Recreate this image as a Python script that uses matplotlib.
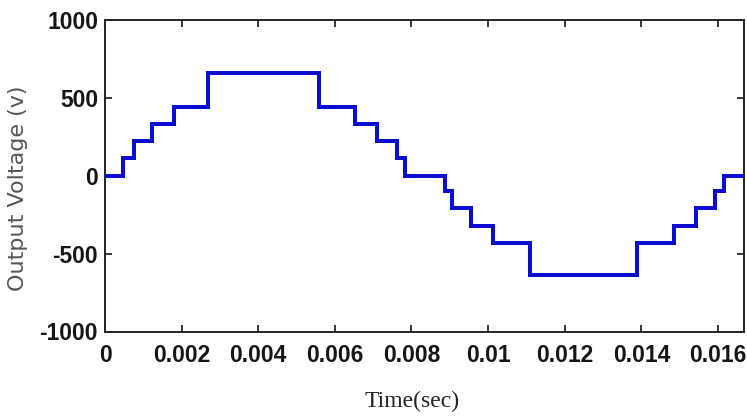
import matplotlib
matplotlib.use("Agg")
import matplotlib.pyplot as plt
from matplotlib.ticker import FixedLocator, FixedFormatter

# Switching instants (s) and output voltage level (V) held after each instant
times = [0, 0.00046, 0.00076, 0.00122, 0.00180, 0.00270, 0.00559, 0.00653,
         0.00711, 0.00762, 0.00782, 0.00888, 0.00905, 0.00956, 0.01014,
         0.01110, 0.01388, 0.01484, 0.01543, 0.01593, 0.01617, 1 / 60]
levels = [0, 115, 225, 335, 443, 662, 443, 335, 225, 115, 0, -100, -208,
          -322, -434, -640, -434, -322, -208, -100, 0, 0]

xticks = [0, 0.002, 0.004, 0.006, 0.008, 0.010, 0.012, 0.014, 0.016]
xticklabels = ["0", "0.002", "0.004", "0.006", "0.008", "0.01", "0.012", "0.014", "0.016"]
yticks = [-1000, -500, 0, 500, 1000]
yticklabels = ["-1000", "-500", "0", "500", "1000"]

W, H = 747, 416
fig = plt.figure(figsize=(W / 100, H / 100), dpi=100)
left, right, top, bottom = 105, 743.5, 20, 331.5
ax = fig.add_axes([left / W, 1 - bottom / H, (right - left) / W, (bottom - top) / H])

ax.step(times, levels, where="post", color="#0c0cd0", lw=2.9, solid_joinstyle="miter")

ax.set_xlim(0, 1 / 60)
ax.set_ylim(-1000, 1000)
ax.xaxis.set_major_locator(FixedLocator(xticks))
ax.xaxis.set_major_formatter(FixedFormatter(xticklabels))
ax.yaxis.set_major_locator(FixedLocator(yticks))
ax.yaxis.set_major_formatter(FixedFormatter(yticklabels))

for lab in ax.get_xticklabels() + ax.get_yticklabels():
    lab.set_fontfamily(["Liberation Sans", "DejaVu Sans"])
    lab.set_fontsize(16.5)
    lab.set_fontweight("bold")
    lab.set_color("#161616")

ax.tick_params(axis="both", direction="in", length=5, width=1.2, colors="#161616",
               top=True, right=True)
ax.tick_params(axis="x", pad=9)
ax.tick_params(axis="y", pad=5)
for s in ax.spines.values():
    s.set_linewidth(1.4)
    s.set_color("#222222")

fig.text(412 / W, 1 - 401 / H, "Time(sec)", ha="center", va="center",
         family=["Liberation Serif", "DejaVu Serif"], fontsize=17, color="#222222")
fig.text(18 / W, 1 - 188 / H, "Output Voltage (v)", ha="center", va="center", rotation=90,
         family=["DejaVu Sans"], fontsize=16, color="#555555")

fig.savefig("out.png", dpi=100)
